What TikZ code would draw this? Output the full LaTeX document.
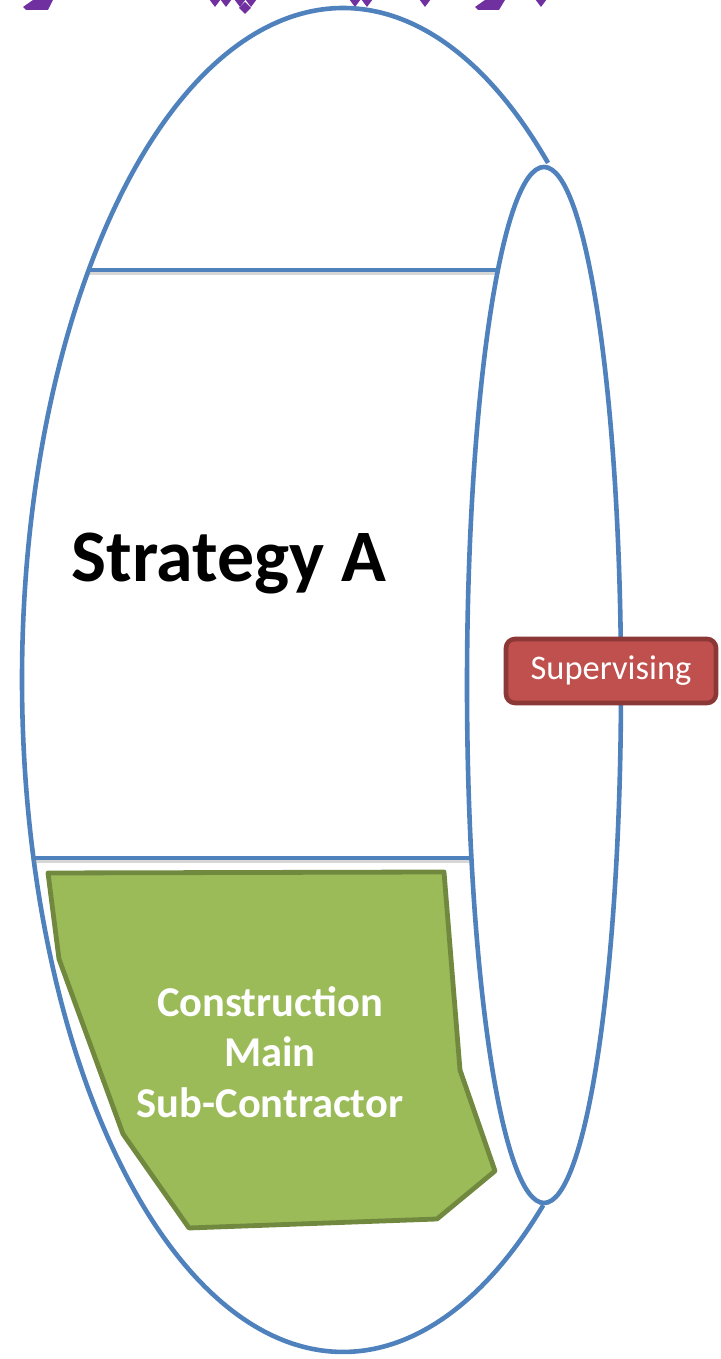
\documentclass[tikz,border=0pt]{standalone}
\usepackage{fontspec}
\setmainfont{Carlito}
\definecolor{oblue}{HTML}{4F81BD}
\definecolor{ogreen}{HTML}{9BBB59}
\definecolor{ogreenline}{HTML}{71893F}
\definecolor{ored}{HTML}{C0504D}
\definecolor{oredline}{HTML}{8C3836}
\definecolor{opurple}{HTML}{7030A0}
\tikzset{
  blueline/.style={draw=oblue, line width=4.6pt},
  shadowline/.style={draw=black!45, line width=3pt, opacity=0.35},
  greenshape/.style={draw=ogreenline, fill=ogreen, line width=4.8pt, line join=round},
  redbox/.style={draw=oredline, fill=ored, line width=4.6pt, rounded corners=9pt,
    minimum width=210pt, minimum height=64pt, text=white, font=\fontsize{34.5}{40}\selectfont, inner sep=0pt},
  purplebit/.style={fill=opurple, draw=none},
}
\begin{document}
\begin{tikzpicture}[x=1pt,y=1pt]
\useasboundingbox (0,0) rectangle (720,1359);
\clip (0,0) rectangle (720,1359);
% purple clipped fragments at top
\fill[purplebit] (33,1359) -- (53,1359) -- (48,1349) -- (26,1349) -- (23,1352) -- cycle;
\fill[purplebit] (485,1359) -- (505,1359) -- (499,1349) -- (478,1349) -- (475,1352) -- cycle;
\foreach \px in {215,226,240,251,355,367,425,541}{
  \fill[purplebit] (\px-6,1360) -- (\px,1352) -- (\px+6,1360) -- cycle;
}
\fill[purplebit] (245,1357) -- (251,1351) -- (245,1345) -- (239,1351) -- cycle;
% big outer arc
\draw[blueline] (343,679) ++(50.3:321 and 672) coordinate (arcstart)
  arc[start angle=50.3, end angle=308.6, x radius=321, y radius=672] coordinate (arcend);
% horizontal dividers with soft shadow
\coordinate (l1a) at (89,1089);
\coordinate (l1b) at (498,1089);
\coordinate (l2a) at (34,501);
\coordinate (l2b) at (471,501);
\draw[shadowline] ([yshift=-4pt]l1a) -- ([yshift=-4pt]l1b);
\draw[shadowline] ([yshift=-4pt]l2a) -- ([yshift=-4pt]l2b);
\draw[blueline] (l1a) -- (l1b);
\draw[blueline] (l2a) -- (l2b);
% right end ellipse
\draw[blueline, fill=white] (544,674) ellipse[x radius=77, y radius=518];
% green polygon
\draw[greenshape] (48,486) -- (444,487) -- (460,289) -- (495,188) -- (437,140) -- (189,131) -- (123,225) -- (59,400) -- cycle;
\node (constr) at (270,307) [align=center, text=white, font=\fontsize{42.5}{50.5}\selectfont\bfseries, inner sep=0pt]
  {Construction\\Main\\Sub-Contractor};
% title
\node (strat) at (229,777) [anchor=base, font=\fontsize{74}{84}\selectfont\bfseries, inner sep=0pt] {Strategy A};
% supervising box
\node[redbox] (sup) at (611,688) {Supervising};
\end{tikzpicture}
\end{document}
